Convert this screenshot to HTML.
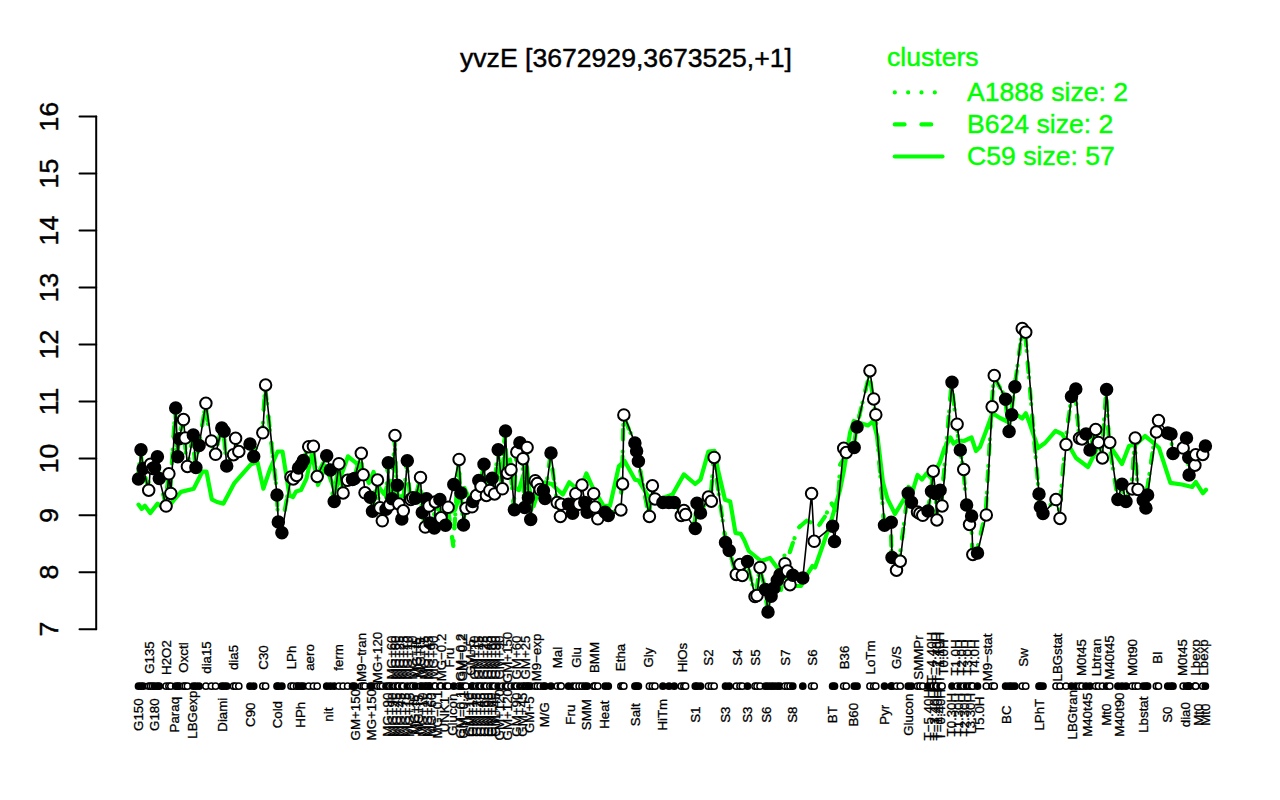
<!DOCTYPE html>
<html><head><meta charset="utf-8"><title>yvzE [3672929,3673525,+1]</title>
<style>html,body{margin:0;padding:0;background:#fff}svg{display:block}text{font-family:"Liberation Sans",Arial,Helvetica,sans-serif}</style>
</head><body>
<svg width="1280" height="800" viewBox="0 0 1280 800">
<rect width="1280" height="800" fill="#fff"/>
<text x="626" y="67.2" font-size="26.6" text-anchor="middle" fill="#000" stroke="#000" stroke-width="0.45">yvzE [3672929,3673525,+1]</text>
<g stroke="#000" stroke-width="2.0" fill="none" stroke-linecap="round">
<path d="M96.2 629.2V116.6"/>
<path d="M96.2 629.2H79.5"/>
<path d="M96.2 572.2H79.5"/>
<path d="M96.2 515.3H79.5"/>
<path d="M96.2 458.4H79.5"/>
<path d="M96.2 401.4H79.5"/>
<path d="M96.2 344.5H79.5"/>
<path d="M96.2 287.5H79.5"/>
<path d="M96.2 230.6H79.5"/>
<path d="M96.2 173.6H79.5"/>
<path d="M96.2 116.6H79.5"/>
</g>
<g font-size="26.6" text-anchor="middle" fill="#000" stroke="#000" stroke-width="0.45">
<text transform="translate(57.5 629.2) rotate(-90)">7</text>
<text transform="translate(57.5 572.2) rotate(-90)">8</text>
<text transform="translate(57.5 515.3) rotate(-90)">9</text>
<text transform="translate(57.5 458.4) rotate(-90)">10</text>
<text transform="translate(57.5 401.4) rotate(-90)">11</text>
<text transform="translate(57.5 344.5) rotate(-90)">12</text>
<text transform="translate(57.5 287.5) rotate(-90)">13</text>
<text transform="translate(57.5 230.6) rotate(-90)">14</text>
<text transform="translate(57.5 173.6) rotate(-90)">15</text>
<text transform="translate(57.5 116.6) rotate(-90)">16</text>
</g>
<g font-size="26.6" fill="#00ff00" stroke="#00ff00" stroke-width="0.45">
<text x="887" y="66.1">clusters</text>
<text x="967" y="101.1">A1888 size: 2</text>
<text x="967" y="133.2">B624 size: 2</text>
<text x="967" y="165.2">C59 size: 57</text>
</g>
<g stroke="#00ff00" stroke-width="4.2" fill="none" stroke-linecap="round">
<path d="M894.8 92.4H944" stroke-dasharray="0.01 13.33"/>
<path d="M894.75 124.4H944" stroke-dasharray="9.8 16.87"/>
<path d="M894.75 156.5H942.5"/>
</g>
<g stroke="#00ff00" stroke-width="4.2" fill="none" stroke-linecap="round" stroke-linejoin="round">
<path d="M138.0 477.4 L140.5 451.3 L142.7 469.6 L148.2 486.5 L150.1 465.7 L152.1 467.7 L154.1 464.4 L156.9 458.3 L158.8 474.8 L165.6 504.2 L168.4 475.3 L170.3 489.5 L175.2 409.5 L177.3 459.1 L178.8 436.8 L183.0 421.1 L184.7 439.6 L186.9 469.0 L192.8 436.6 L195.4 465.9 L198.6 448.6 L205.4 404.8 L210.9 444.2 L215.1 453.2 L221.3 429.6 L223.6 430.0 L226.2 464.4 L233.0 456.6 L235.1 439.8 L238.3 451.6 L249.5 445.6 L253.2 454.3 L262.3 433.8 L265.1 386.5 L276.5 488.8 L277.8 515.6 L281.4 529.2 L290.5 478.4 L292.7 476.9 L296.1 475.1 L298.0 467.1 L300.7 462.9 L302.9 462.1 L308.2 447.5 L312.9 447.8 L316.7 475.7 L326.2 457.2 L329.9 471.6 L333.7 501.2 L338.4 465.2 L342.6 493.9 L347.1 475.2 L352.0 476.6 L354.0 478.1 L360.8 454.8 L362.7 473.1 L364.5 487.4 L369.8 496.3 L372.0 510.1 L377.0 481.5 L379.5 508.2 L381.8 516.8 L385.5 508.4 L387.8 464.3 L389.3 503.0 L391.5 496.4 L394.5 438.6 L396.8 487.4 L398.3 502.0 L401.3 517.7 L402.8 505.6 L406.8 462.3 L410.3 499.0 L412.3 499.8 L415.0 499.0 L420.0 478.9 L421.8 509.5 L424.8 525.7 L426.0 500.3 L428.5 504.2 L429.5 518.4 L433.8 523.0 L434.8 497.6 L439.4 500.9 L440.5 513.4 L445.0 521.6 L447.6 505.3 L453.3 546.0 L458.6 460.9 L460.4 491.1 L463.0 522.3 L465.5 508.8 L471.5 507.2 L472.3 502.3 L476.0 492.3 L478.3 482.0 L480.5 483.7 L483.5 465.9 L485.9 496.5 L489.3 486.2 L491.7 479.7 L494.1 489.9 L497.7 451.3 L501.9 486.2 L505.0 432.5 L506.9 469.5 L510.5 471.2 L513.9 506.7 L516.3 451.2 L519.4 444.3 L522.5 461.1 L524.2 505.9 L526.6 448.9 L527.9 496.4 L530.2 518.3 L534.7 482.2 L536.8 485.3 L539.6 490.0 L542.9 491.3 L544.5 498.4 L550.5 454.5 L556.7 499.9 L559.9 511.2 L560.7 505.7 L568.0 505.7 L572.1 507.6 L575.3 495.2 L578.6 499.7 L581.5 486.5 L584.3 497.0 L586.7 505.8 L593.2 495.2 L594.5 502.2 L597.3 515.4 L604.6 513.8 L607.8 516.3 L620.4 507.4 L622.1 479.2 L623.4 416.4 L634.4 441.8 L636.1 449.8 L637.9 457.9 L648.9 516.5 L651.9 488.2 L654.5 497.1 L662.4 500.6 L668.5 503.9 L673.8 503.9 L680.8 511.4 L683.4 512.1 L685.1 513.9 L694.8 522.9 L696.5 504.8 L700.0 513.2 L707.9 498.6 L710.9 495.2 L713.6 458.9 L725.0 536.0 L728.7 547.3 L735.8 574.6 L739.5 566.1 L741.8 573.7 L747.0 563.1 L754.5 592.5 L756.5 590.3 L759.5 568.9 L764.9 587.0 L767.5 610.3 L770.6 592.1 L773.5 583.6 L776.8 580.4 L779.5 576.5 L781.0 590.0 L785.0 550.0 L789.5 553.0 L793.8 540.0 L798.8 527.5 L807.5 520.0 L817.5 527.5 L826.0 515.0 L831.0 502.5 L836.0 510.0 L838.8 490.0 L840.0 465.0 L847.5 452.5 L853.7 447.5 L856.5 427.4 L869.5 373.6 L873.2 400.1 L875.3 411.9 L884.0 522.4 L890.8 523.8 L891.5 550.7 L896.0 563.1 L899.8 556.0 L907.7 494.8 L911.0 501.6 L917.0 512.2 L919.4 510.3 L922.2 515.4 L927.5 511.4 L931.0 492.4 L932.8 472.7 L935.2 489.3 L936.4 514.5 L939.6 491.7 L941.6 500.3 L951.5 383.9 L956.6 426.2 L959.8 450.5 L963.2 466.7 L966.1 502.1 L969.0 521.7 L971.1 517.5 L972.3 549.6 L977.0 550.2 L985.8 512.0 L991.6 407.3 L993.8 377.1 L1005.1 396.4 L1008.6 431.7 L1011.2 412.2 L1014.4 388.5 L1021.8 333.8 L1025.2 333.2 L1038.5 489.9 L1039.9 506.2 L1042.5 510.9 L1055.5 501.1 L1059.5 510.9 L1065.5 440.5 L1071.0 400.1 L1075.3 392.3 L1079.0 435.2 L1081.5 440.7 L1085.5 437.2 L1089.5 450.1 L1095.2 431.0 L1097.9 441.3 L1101.9 453.3 L1106.1 390.9 L1109.3 444.3 L1117.4 497.4 L1121.5 485.8 L1125.5 501.1 L1131.7 485.2 L1134.7 439.5 L1137.5 488.3 L1142.8 494.2 L1145.4 502.0 L1147.1 489.8 L1155.9 429.2 L1158.0 422.1 L1167.2 431.5 L1170.5 433.9 L1172.5 450.5 L1182.7 450.9 L1186.0 439.6 L1188.2 456.8 L1188.6 474.4 L1194.4 467.3 L1195.2 453.8 L1202.2 457.4 L1204.9 447.5" stroke-dasharray="0.01 13.33"/>
<path d="M138.0 477.4 L140.5 451.3 L142.7 469.6 L148.2 486.5 L150.1 465.7 L152.1 467.7 L154.1 464.4 L156.9 458.3 L158.8 474.8 L165.6 504.2 L168.4 475.3 L170.3 489.5 L175.2 409.5 L177.3 459.1 L178.8 436.8 L183.0 421.1 L184.7 439.6 L186.9 469.0 L192.8 436.6 L195.4 465.9 L198.6 448.6 L205.4 404.8 L210.9 444.2 L215.1 453.2 L221.3 429.6 L223.6 430.0 L226.2 464.4 L233.0 456.6 L235.1 439.8 L238.3 451.6 L249.5 445.6 L253.2 454.3 L262.3 433.8 L265.1 386.5 L276.5 488.8 L277.8 515.6 L281.4 529.2 L290.5 478.4 L292.7 476.9 L296.1 475.1 L298.0 467.1 L300.7 462.9 L302.9 462.1 L308.2 447.5 L312.9 447.8 L316.7 475.7 L326.2 457.2 L329.9 471.6 L333.7 501.2 L338.4 465.2 L342.6 493.9 L347.1 475.2 L352.0 476.6 L354.0 478.1 L360.8 454.8 L362.7 473.1 L364.5 487.4 L369.8 496.3 L372.0 510.1 L377.0 481.5 L379.5 508.2 L381.8 516.8 L385.5 508.4 L387.8 464.3 L389.3 503.0 L391.5 496.4 L394.5 438.6 L396.8 487.4 L398.3 502.0 L401.3 517.7 L402.8 505.6 L406.8 462.3 L410.3 499.0 L412.3 499.8 L415.0 499.0 L420.0 478.9 L421.8 509.5 L424.8 525.7 L426.0 500.3 L428.5 504.2 L429.5 518.4 L433.8 523.0 L434.8 497.6 L439.4 500.9 L440.5 513.4 L445.0 521.6 L447.6 505.3 L453.3 546.0 L458.6 460.9 L460.4 491.1 L463.0 522.3 L465.5 508.8 L471.5 507.2 L472.3 502.3 L476.0 492.3 L478.3 482.0 L480.5 483.7 L483.5 465.9 L485.9 496.5 L489.3 486.2 L491.7 479.7 L494.1 489.9 L497.7 451.3 L501.9 486.2 L505.0 432.5 L506.9 469.5 L510.5 471.2 L513.9 506.7 L516.3 451.2 L519.4 444.3 L522.5 461.1 L524.2 505.9 L526.6 448.9 L527.9 496.4 L530.2 518.3 L534.7 482.2 L536.8 485.3 L539.6 490.0 L542.9 491.3 L544.5 498.4 L550.5 454.5 L556.7 499.9 L559.9 511.2 L560.7 505.7 L568.0 505.7 L572.1 507.6 L575.3 495.2 L578.6 499.7 L581.5 486.5 L584.3 497.0 L586.7 505.8 L593.2 495.2 L594.5 502.2 L597.3 515.4 L604.6 513.8 L607.8 516.3 L620.4 507.4 L622.1 479.2 L623.4 416.4 L634.4 441.8 L636.1 449.8 L637.9 457.9 L648.9 516.5 L651.9 488.2 L654.5 497.1 L662.4 500.6 L668.5 503.9 L673.8 503.9 L680.8 511.4 L683.4 512.1 L685.1 513.9 L694.8 522.9 L696.5 504.8 L700.0 513.2 L707.9 498.6 L710.9 495.2 L713.6 458.9 L725.0 536.0 L728.7 547.3 L735.8 574.6 L739.5 566.1 L741.8 573.7 L747.0 563.1 L754.5 592.5 L756.5 590.3 L759.5 568.9 L764.9 587.0 L767.5 610.3 L770.6 592.1 L773.5 583.6 L776.8 580.4 L779.5 576.5 L781.0 590.0 L785.0 550.0 L789.5 553.0 L793.8 540.0 L798.8 527.5 L807.5 520.0 L817.5 527.5 L826.0 515.0 L831.0 502.5 L836.0 510.0 L838.8 490.0 L840.0 465.0 L847.5 452.5 L853.7 447.5 L856.5 427.4 L869.5 373.6 L873.2 400.1 L875.3 411.9 L884.0 522.4 L890.8 523.8 L891.5 550.7 L896.0 563.1 L899.8 556.0 L907.7 494.8 L911.0 501.6 L917.0 512.2 L919.4 510.3 L922.2 515.4 L927.5 511.4 L931.0 492.4 L932.8 472.7 L935.2 489.3 L936.4 514.5 L939.6 491.7 L941.6 500.3 L951.5 383.9 L956.6 426.2 L959.8 450.5 L963.2 466.7 L966.1 502.1 L969.0 521.7 L971.1 517.5 L972.3 549.6 L977.0 550.2 L985.8 512.0 L991.6 407.3 L993.8 377.1 L1005.1 396.4 L1008.6 431.7 L1011.2 412.2 L1014.4 388.5 L1021.8 333.8 L1025.2 333.2 L1038.5 489.9 L1039.9 506.2 L1042.5 510.9 L1055.5 501.1 L1059.5 510.9 L1065.5 440.5 L1071.0 400.1 L1075.3 392.3 L1079.0 435.2 L1081.5 440.7 L1085.5 437.2 L1089.5 450.1 L1095.2 431.0 L1097.9 441.3 L1101.9 453.3 L1106.1 390.9 L1109.3 444.3 L1117.4 497.4 L1121.5 485.8 L1125.5 501.1 L1131.7 485.2 L1134.7 439.5 L1137.5 488.3 L1142.8 494.2 L1145.4 502.0 L1147.1 489.8 L1155.9 429.2 L1158.0 422.1 L1167.2 431.5 L1170.5 433.9 L1172.5 450.5 L1182.7 450.9 L1186.0 439.6 L1188.2 456.8 L1188.6 474.4 L1194.4 467.3 L1195.2 453.8 L1202.2 457.4 L1204.9 447.5" stroke-dasharray="9.8 16.87"/>
<path d="M138.5 504.6 L141.7 508.9 L144.9 505.7 L150.2 513.1 L157.6 503.6 L161.9 506.8 L167.0 509.0 L173.6 500.4 L181.0 491.9 L193.7 488.7 L202.3 471.7 L206.5 471.7 L211.8 499.3 L217.0 502.0 L223.5 503.6 L234.1 483.4 L251.1 464.2 L257.5 462.1 L263.4 488.7 L270.2 468.5 L277.7 451.5 L282.5 451.5 L289.5 495.6 L293.0 497.0 L296.0 491.4 L301.0 490.0 L306.5 478.6 L312.0 453.0 L318.0 485.0 L325.7 465.9 L335.0 491.0 L341.6 474.4 L348.0 456.3 L354.4 461.6 L361.0 468.0 L369.0 483.0 L373.5 472.0 L378.0 486.0 L384.0 494.0 L390.5 481.0 L397.0 497.0 L405.0 495.6 L412.0 500.0 L420.0 491.0 L428.0 503.0 L437.5 509.0 L446.0 514.0 L455.0 510.0 L460.0 494.0 L464.5 488.0 L470.0 500.0 L476.0 492.0 L483.0 474.5 L490.0 484.0 L496.0 478.0 L502.0 463.6 L510.0 459.5 L515.0 488.0 L519.0 490.0 L523.0 476.0 L527.0 466.9 L528.7 486.3 L533.6 506.0 L538.0 492.0 L545.0 482.3 L551.5 484.0 L562.8 494.5 L569.3 482.3 L574.0 486.5 L580.0 490.0 L586.4 473.4 L592.0 486.0 L603.5 505.8 L610.0 505.8 L618.9 466.0 L624.6 461.0 L634.9 479.6 L638.5 480.5 L648.0 496.2 L660.0 499.0 L672.5 494.5 L683.9 474.4 L695.2 484.0 L700.5 479.6 L708.4 451.6 L714.5 450.8 L718.0 470.0 L725.0 499.8 L730.2 501.5 L735.5 533.0 L740.8 533.9 L744.2 540.0 L748.8 551.0 L761.0 561.0 L770.0 558.0 L778.8 570.0 L786.0 578.0 L794.0 586.0 L801.0 586.0 L807.5 573.8 L812.5 566.0 L815.0 567.5 L824.0 542.0 L832.0 518.0 L840.0 490.0 L844.0 470.0 L850.0 433.0 L853.8 421.0 L868.0 425.5 L873.2 421.0 L877.8 439.0 L883.0 482.5 L887.5 499.0 L895.0 514.0 L904.0 499.0 L908.5 487.0 L913.0 490.0 L917.5 475.0 L922.0 479.5 L926.5 473.5 L931.0 478.0 L935.0 472.0 L940.0 462.0 L944.5 448.0 L950.5 437.5 L953.5 443.5 L958.0 440.5 L964.0 441.0 L971.5 437.5 L976.0 451.0 L980.0 447.0 L985.5 432.5 L992.5 413.2 L1000.0 418.0 L1008.2 422.0 L1017.0 415.0 L1022.2 418.5 L1025.8 413.2 L1029.2 422.0 L1038.0 448.0 L1045.0 443.0 L1055.5 430.8 L1062.0 434.0 L1068.0 444.0 L1076.0 458.0 L1088.0 467.0 L1094.0 455.0 L1100.0 441.0 L1110.0 446.0 L1122.0 464.0 L1129.0 446.0 L1137.0 443.5 L1145.0 436.0 L1152.0 441.6 L1159.0 447.8 L1170.4 482.8 L1181.8 484.5 L1192.2 487.0 L1195.8 482.0 L1202.8 493.2 L1206.0 489.8" stroke-width="4.2"/>
</g>
<path d="M138.5 479.1 L141.0 449.8 L143.2 468.5 L148.7 490.2 L150.6 464.2 L152.6 468.5 L154.6 467.4 L157.4 456.8 L159.3 478.5 L166.1 506.1 L168.9 473.8 L170.8 493.4 L175.7 407.9 L177.8 456.8 L179.3 438.7 L183.5 419.6 L185.2 438.1 L187.4 466.4 L193.3 435.1 L195.9 467.4 L199.1 445.5 L205.9 403.3 L211.4 440.9 L215.6 454.3 L221.8 428.1 L224.1 431.3 L226.7 466.0 L233.5 454.7 L235.6 438.3 L238.8 451.5 L250.0 444.1 L253.7 456.4 L262.8 432.8 L265.6 385.0 L277.0 495.1 L278.3 522.0 L281.9 532.7 L291.0 476.9 L293.2 479.0 L296.6 475.4 L298.5 468.0 L301.2 464.8 L303.4 460.6 L308.7 446.7 L313.4 446.3 L317.2 476.5 L326.7 455.7 L330.4 470.1 L334.2 501.6 L338.9 463.7 L343.1 492.9 L347.6 480.3 L352.5 479.5 L354.5 478.5 L361.3 453.3 L363.2 474.8 L365.0 492.8 L370.3 497.3 L372.5 511.2 L377.5 480.0 L380.0 507.8 L382.3 520.8 L386.0 509.3 L388.3 462.8 L389.8 504.8 L392.0 498.8 L395.0 435.5 L397.3 485.3 L398.8 504.0 L401.8 519.0 L403.3 510.8 L407.3 460.8 L410.8 499.5 L412.8 497.8 L415.5 498.3 L420.5 477.4 L422.3 512.5 L425.3 527.1 L426.5 498.8 L429.0 506.1 L430.0 523.0 L434.3 528.0 L435.3 502.0 L439.9 499.4 L441.0 517.8 L445.5 525.3 L448.1 507.3 L453.8 484.4 L459.1 459.4 L460.9 493.0 L463.5 524.9 L466.0 508.3 L472.0 506.8 L472.8 501.5 L476.5 495.5 L478.8 480.5 L481.0 486.5 L484.0 464.2 L486.4 495.4 L489.8 490.4 L492.2 478.2 L494.6 493.9 L498.2 449.8 L502.4 488.8 L505.5 431.0 L507.4 473.2 L511.0 469.7 L514.4 509.8 L516.8 452.1 L519.9 442.8 L523.0 458.7 L524.7 507.5 L527.1 447.4 L528.4 497.7 L530.7 519.6 L535.2 480.7 L537.3 483.6 L540.1 489.6 L543.4 490.4 L545.0 498.5 L551.0 453.0 L557.2 502.6 L560.4 516.4 L561.2 504.2 L568.5 504.2 L572.6 513.2 L575.8 493.7 L579.1 504.2 L582.0 485.0 L584.8 502.6 L587.2 512.3 L593.7 493.7 L595.0 507.1 L597.8 518.8 L605.1 512.3 L608.3 515.6 L620.9 509.9 L622.6 484.0 L623.9 414.9 L634.9 442.9 L636.6 451.1 L638.4 461.2 L649.4 516.4 L652.4 485.8 L655.0 498.9 L662.9 502.4 L669.0 502.4 L674.2 502.4 L681.2 515.5 L683.9 510.6 L685.6 514.6 L695.2 528.6 L697.0 503.2 L700.5 512.9 L708.4 497.1 L711.4 501.1 L714.1 457.4 L725.5 542.5 L729.2 550.6 L736.2 574.4 L740.0 564.6 L742.3 575.4 L747.5 561.6 L755.0 596.6 L757.0 595.6 L760.0 567.4 L765.4 589.5 L768.0 612.0 L771.1 596.3 L774.0 588.0 L777.3 580.2 L780.0 574.7 L784.9 563.7 L787.5 571.1 L790.0 584.7 L792.8 575.3 L802.8 578.0 L811.6 493.6 L814.2 541.3 L832.6 526.2 L834.5 541.4 L843.7 448.3 L846.2 452.5 L854.2 447.6 L857.0 427.0 L870.0 370.8 L873.7 398.9 L875.8 414.7 L884.5 525.2 L891.2 522.2 L892.0 557.5 L896.5 570.2 L900.2 561.2 L908.2 493.3 L911.5 502.2 L917.5 512.0 L919.9 513.6 L922.8 515.4 L928.0 510.9 L931.5 491.2 L933.2 471.2 L935.7 493.7 L936.9 520.0 L940.1 490.2 L942.1 505.9 L952.0 382.2 L957.1 424.2 L960.3 450.0 L963.7 469.5 L966.6 505.1 L969.5 524.5 L971.6 516.0 L972.8 554.5 L977.5 553.0 L986.3 514.9 L992.1 406.8 L994.2 375.6 L1005.6 399.2 L1009.1 431.6 L1011.8 414.6 L1014.9 386.6 L1022.2 328.4 L1025.8 332.2 L1039.0 494.0 L1040.4 507.0 L1043.0 513.6 L1056.0 499.6 L1060.0 518.4 L1066.0 444.6 L1071.5 396.6 L1075.8 388.9 L1079.5 438.3 L1082.0 439.0 L1086.0 434.1 L1090.0 450.0 L1095.7 429.5 L1098.4 442.4 L1102.4 458.0 L1106.6 389.4 L1109.8 442.4 L1117.9 499.5 L1122.0 484.3 L1126.0 501.5 L1132.2 488.9 L1135.2 438.0 L1138.0 489.4 L1143.2 500.2 L1145.9 508.1 L1147.6 495.0 L1156.4 432.0 L1158.5 420.6 L1167.8 433.0 L1171.0 434.0 L1173.0 453.4 L1183.2 448.1 L1186.5 438.1 L1188.8 457.4 L1189.1 474.9 L1194.9 465.2 L1195.8 454.8 L1202.8 454.4 L1205.4 446.0" stroke="#000" stroke-width="1.6" fill="none" stroke-linejoin="round" stroke-linecap="round"/>
<g stroke="#000" stroke-width="2.0">
<circle cx="138.50" cy="479.10" r="5.75" fill="#000"/>
<circle cx="141.00" cy="449.80" r="5.75" fill="#000"/>
<circle cx="143.20" cy="468.50" r="5.75" fill="#000"/>
<circle cx="148.70" cy="490.20" r="5.75" fill="#fff"/>
<circle cx="150.60" cy="464.20" r="5.75" fill="#fff"/>
<circle cx="152.60" cy="468.50" r="5.75" fill="#fff"/>
<circle cx="154.60" cy="467.40" r="5.75" fill="#000"/>
<circle cx="157.40" cy="456.80" r="5.75" fill="#000"/>
<circle cx="159.30" cy="478.50" r="5.75" fill="#000"/>
<circle cx="166.10" cy="506.10" r="5.75" fill="#fff"/>
<circle cx="168.90" cy="473.80" r="5.75" fill="#fff"/>
<circle cx="170.80" cy="493.40" r="5.75" fill="#fff"/>
<circle cx="175.70" cy="407.90" r="5.75" fill="#000"/>
<circle cx="177.80" cy="456.80" r="5.75" fill="#000"/>
<circle cx="179.30" cy="438.70" r="5.75" fill="#000"/>
<circle cx="183.50" cy="419.60" r="5.75" fill="#fff"/>
<circle cx="185.20" cy="438.10" r="5.75" fill="#fff"/>
<circle cx="187.40" cy="466.40" r="5.75" fill="#fff"/>
<circle cx="193.30" cy="435.10" r="5.75" fill="#000"/>
<circle cx="195.90" cy="467.40" r="5.75" fill="#000"/>
<circle cx="199.10" cy="445.50" r="5.75" fill="#000"/>
<circle cx="205.90" cy="403.30" r="5.75" fill="#fff"/>
<circle cx="211.40" cy="440.90" r="5.75" fill="#fff"/>
<circle cx="215.60" cy="454.30" r="5.75" fill="#fff"/>
<circle cx="221.80" cy="428.10" r="5.75" fill="#000"/>
<circle cx="224.10" cy="431.30" r="5.75" fill="#000"/>
<circle cx="226.70" cy="466.00" r="5.75" fill="#000"/>
<circle cx="233.50" cy="454.70" r="5.75" fill="#fff"/>
<circle cx="235.60" cy="438.30" r="5.75" fill="#fff"/>
<circle cx="238.80" cy="451.50" r="5.75" fill="#fff"/>
<circle cx="250.00" cy="444.10" r="5.75" fill="#000"/>
<circle cx="253.70" cy="456.40" r="5.75" fill="#000"/>
<circle cx="262.80" cy="432.80" r="5.75" fill="#fff"/>
<circle cx="265.60" cy="385.00" r="5.75" fill="#fff"/>
<circle cx="277.00" cy="495.10" r="5.75" fill="#000"/>
<circle cx="278.30" cy="522.00" r="5.75" fill="#000"/>
<circle cx="281.90" cy="532.70" r="5.75" fill="#000"/>
<circle cx="291.00" cy="476.90" r="5.75" fill="#fff"/>
<circle cx="293.20" cy="479.00" r="5.75" fill="#fff"/>
<circle cx="296.60" cy="475.40" r="5.75" fill="#fff"/>
<circle cx="298.50" cy="468.00" r="5.75" fill="#000"/>
<circle cx="301.20" cy="464.80" r="5.75" fill="#000"/>
<circle cx="303.40" cy="460.60" r="5.75" fill="#000"/>
<circle cx="308.70" cy="446.70" r="5.75" fill="#fff"/>
<circle cx="313.40" cy="446.30" r="5.75" fill="#fff"/>
<circle cx="317.20" cy="476.50" r="5.75" fill="#fff"/>
<circle cx="326.70" cy="455.70" r="5.75" fill="#000"/>
<circle cx="330.40" cy="470.10" r="5.75" fill="#000"/>
<circle cx="334.20" cy="501.60" r="5.75" fill="#000"/>
<circle cx="338.90" cy="463.70" r="5.75" fill="#fff"/>
<circle cx="343.10" cy="492.90" r="5.75" fill="#fff"/>
<circle cx="347.60" cy="480.30" r="5.75" fill="#fff"/>
<circle cx="352.50" cy="479.50" r="5.75" fill="#000"/>
<circle cx="354.50" cy="478.50" r="5.75" fill="#000"/>
<circle cx="361.30" cy="453.30" r="5.75" fill="#fff"/>
<circle cx="363.20" cy="474.80" r="5.75" fill="#fff"/>
<circle cx="365.00" cy="492.80" r="5.75" fill="#fff"/>
<circle cx="370.30" cy="497.30" r="5.75" fill="#000"/>
<circle cx="372.50" cy="511.20" r="5.75" fill="#000"/>
<circle cx="377.50" cy="480.00" r="5.75" fill="#fff"/>
<circle cx="380.00" cy="507.80" r="5.75" fill="#fff"/>
<circle cx="382.30" cy="520.80" r="5.75" fill="#fff"/>
<circle cx="386.00" cy="509.30" r="5.75" fill="#000"/>
<circle cx="388.30" cy="462.80" r="5.75" fill="#000"/>
<circle cx="389.80" cy="504.80" r="5.75" fill="#fff"/>
<circle cx="392.00" cy="498.80" r="5.75" fill="#000"/>
<circle cx="395.00" cy="435.50" r="5.75" fill="#fff"/>
<circle cx="397.30" cy="485.30" r="5.75" fill="#000"/>
<circle cx="398.80" cy="504.00" r="5.75" fill="#fff"/>
<circle cx="401.80" cy="519.00" r="5.75" fill="#000"/>
<circle cx="403.30" cy="510.80" r="5.75" fill="#fff"/>
<circle cx="407.30" cy="460.80" r="5.75" fill="#000"/>
<circle cx="410.80" cy="499.50" r="5.75" fill="#fff"/>
<circle cx="412.80" cy="497.80" r="5.75" fill="#fff"/>
<circle cx="415.50" cy="498.30" r="5.75" fill="#000"/>
<circle cx="420.50" cy="477.40" r="5.75" fill="#fff"/>
<circle cx="422.30" cy="512.50" r="5.75" fill="#000"/>
<circle cx="425.30" cy="527.10" r="5.75" fill="#fff"/>
<circle cx="426.50" cy="498.80" r="5.75" fill="#000"/>
<circle cx="429.00" cy="506.10" r="5.75" fill="#fff"/>
<circle cx="430.00" cy="523.00" r="5.75" fill="#000"/>
<circle cx="434.30" cy="528.00" r="5.75" fill="#000"/>
<circle cx="435.30" cy="502.00" r="5.75" fill="#fff"/>
<circle cx="439.90" cy="499.40" r="5.75" fill="#000"/>
<circle cx="441.00" cy="517.80" r="5.75" fill="#fff"/>
<circle cx="445.50" cy="525.30" r="5.75" fill="#000"/>
<circle cx="448.10" cy="507.30" r="5.75" fill="#fff"/>
<circle cx="453.80" cy="484.40" r="5.75" fill="#000"/>
<circle cx="459.10" cy="459.40" r="5.75" fill="#fff"/>
<circle cx="460.90" cy="493.00" r="5.75" fill="#000"/>
<circle cx="463.50" cy="524.90" r="5.75" fill="#000"/>
<circle cx="466.00" cy="508.30" r="5.75" fill="#fff"/>
<circle cx="472.00" cy="506.80" r="5.75" fill="#fff"/>
<circle cx="472.80" cy="501.50" r="5.75" fill="#000"/>
<circle cx="476.50" cy="495.50" r="5.75" fill="#fff"/>
<circle cx="478.80" cy="480.50" r="5.75" fill="#000"/>
<circle cx="481.00" cy="486.50" r="5.75" fill="#fff"/>
<circle cx="484.00" cy="464.20" r="5.75" fill="#000"/>
<circle cx="486.40" cy="495.40" r="5.75" fill="#fff"/>
<circle cx="489.80" cy="490.40" r="5.75" fill="#fff"/>
<circle cx="492.20" cy="478.20" r="5.75" fill="#000"/>
<circle cx="494.60" cy="493.90" r="5.75" fill="#fff"/>
<circle cx="498.20" cy="449.80" r="5.75" fill="#000"/>
<circle cx="502.40" cy="488.80" r="5.75" fill="#fff"/>
<circle cx="505.50" cy="431.00" r="5.75" fill="#000"/>
<circle cx="507.40" cy="473.20" r="5.75" fill="#fff"/>
<circle cx="511.00" cy="469.70" r="5.75" fill="#fff"/>
<circle cx="514.40" cy="509.80" r="5.75" fill="#000"/>
<circle cx="516.80" cy="452.10" r="5.75" fill="#fff"/>
<circle cx="519.90" cy="442.80" r="5.75" fill="#000"/>
<circle cx="523.00" cy="458.70" r="5.75" fill="#fff"/>
<circle cx="524.70" cy="507.50" r="5.75" fill="#000"/>
<circle cx="527.10" cy="447.40" r="5.75" fill="#fff"/>
<circle cx="528.40" cy="497.70" r="5.75" fill="#000"/>
<circle cx="530.70" cy="519.60" r="5.75" fill="#000"/>
<circle cx="535.20" cy="480.70" r="5.75" fill="#fff"/>
<circle cx="537.30" cy="483.60" r="5.75" fill="#fff"/>
<circle cx="540.10" cy="489.60" r="5.75" fill="#fff"/>
<circle cx="543.40" cy="490.40" r="5.75" fill="#000"/>
<circle cx="545.00" cy="498.50" r="5.75" fill="#000"/>
<circle cx="551.00" cy="453.00" r="5.75" fill="#000"/>
<circle cx="557.20" cy="502.60" r="5.75" fill="#fff"/>
<circle cx="560.40" cy="516.40" r="5.75" fill="#fff"/>
<circle cx="561.20" cy="504.20" r="5.75" fill="#fff"/>
<circle cx="568.50" cy="504.20" r="5.75" fill="#000"/>
<circle cx="572.60" cy="513.20" r="5.75" fill="#000"/>
<circle cx="575.80" cy="493.70" r="5.75" fill="#fff"/>
<circle cx="579.10" cy="504.20" r="5.75" fill="#fff"/>
<circle cx="582.00" cy="485.00" r="5.75" fill="#fff"/>
<circle cx="584.80" cy="502.60" r="5.75" fill="#000"/>
<circle cx="587.20" cy="512.30" r="5.75" fill="#000"/>
<circle cx="593.70" cy="493.70" r="5.75" fill="#fff"/>
<circle cx="595.00" cy="507.10" r="5.75" fill="#fff"/>
<circle cx="597.80" cy="518.80" r="5.75" fill="#fff"/>
<circle cx="605.10" cy="512.30" r="5.75" fill="#000"/>
<circle cx="608.30" cy="515.60" r="5.75" fill="#000"/>
<circle cx="620.90" cy="509.90" r="5.75" fill="#fff"/>
<circle cx="622.60" cy="484.00" r="5.75" fill="#fff"/>
<circle cx="623.85" cy="414.90" r="5.75" fill="#fff"/>
<circle cx="634.90" cy="442.90" r="5.75" fill="#000"/>
<circle cx="636.60" cy="451.10" r="5.75" fill="#000"/>
<circle cx="638.40" cy="461.25" r="5.75" fill="#000"/>
<circle cx="649.40" cy="516.40" r="5.75" fill="#fff"/>
<circle cx="652.40" cy="485.75" r="5.75" fill="#fff"/>
<circle cx="655.00" cy="498.90" r="5.75" fill="#fff"/>
<circle cx="662.90" cy="502.40" r="5.75" fill="#000"/>
<circle cx="669.00" cy="502.40" r="5.75" fill="#000"/>
<circle cx="674.25" cy="502.40" r="5.75" fill="#000"/>
<circle cx="681.25" cy="515.50" r="5.75" fill="#fff"/>
<circle cx="683.90" cy="510.60" r="5.75" fill="#fff"/>
<circle cx="685.60" cy="514.60" r="5.75" fill="#fff"/>
<circle cx="695.25" cy="528.60" r="5.75" fill="#000"/>
<circle cx="697.00" cy="503.25" r="5.75" fill="#000"/>
<circle cx="700.50" cy="512.90" r="5.75" fill="#000"/>
<circle cx="708.40" cy="497.10" r="5.75" fill="#fff"/>
<circle cx="711.35" cy="501.15" r="5.75" fill="#fff"/>
<circle cx="714.15" cy="457.40" r="5.75" fill="#fff"/>
<circle cx="725.50" cy="542.50" r="5.75" fill="#000"/>
<circle cx="729.20" cy="550.60" r="5.75" fill="#000"/>
<circle cx="736.25" cy="574.40" r="5.75" fill="#fff"/>
<circle cx="740.00" cy="564.60" r="5.75" fill="#fff"/>
<circle cx="742.30" cy="575.40" r="5.75" fill="#fff"/>
<circle cx="747.50" cy="561.60" r="5.75" fill="#000"/>
<circle cx="755.00" cy="596.60" r="5.75" fill="#fff"/>
<circle cx="757.00" cy="595.60" r="5.75" fill="#fff"/>
<circle cx="760.00" cy="567.40" r="5.75" fill="#fff"/>
<circle cx="765.40" cy="589.50" r="5.75" fill="#000"/>
<circle cx="768.00" cy="612.00" r="5.75" fill="#000"/>
<circle cx="771.10" cy="596.30" r="5.75" fill="#000"/>
<circle cx="774.00" cy="588.00" r="5.75" fill="#000"/>
<circle cx="777.30" cy="580.20" r="5.75" fill="#000"/>
<circle cx="780.00" cy="574.70" r="5.75" fill="#000"/>
<circle cx="784.90" cy="563.70" r="5.75" fill="#fff"/>
<circle cx="787.50" cy="571.10" r="5.75" fill="#fff"/>
<circle cx="790.00" cy="584.70" r="5.75" fill="#fff"/>
<circle cx="792.80" cy="575.30" r="5.75" fill="#000"/>
<circle cx="802.80" cy="578.00" r="5.75" fill="#000"/>
<circle cx="811.60" cy="493.60" r="5.75" fill="#fff"/>
<circle cx="814.20" cy="541.30" r="5.75" fill="#fff"/>
<circle cx="832.60" cy="526.20" r="5.75" fill="#000"/>
<circle cx="834.50" cy="541.40" r="5.75" fill="#000"/>
<circle cx="843.70" cy="448.30" r="5.75" fill="#fff"/>
<circle cx="846.25" cy="452.50" r="5.75" fill="#fff"/>
<circle cx="854.20" cy="447.55" r="5.75" fill="#000"/>
<circle cx="857.05" cy="427.00" r="5.75" fill="#000"/>
<circle cx="869.95" cy="370.75" r="5.75" fill="#fff"/>
<circle cx="873.70" cy="398.95" r="5.75" fill="#fff"/>
<circle cx="875.80" cy="414.70" r="5.75" fill="#fff"/>
<circle cx="884.50" cy="525.25" r="5.75" fill="#000"/>
<circle cx="891.25" cy="522.25" r="5.75" fill="#000"/>
<circle cx="892.00" cy="557.50" r="5.75" fill="#000"/>
<circle cx="896.50" cy="570.25" r="5.75" fill="#fff"/>
<circle cx="900.25" cy="561.25" r="5.75" fill="#fff"/>
<circle cx="908.20" cy="493.30" r="5.75" fill="#000"/>
<circle cx="911.45" cy="502.25" r="5.75" fill="#000"/>
<circle cx="917.50" cy="512.00" r="5.75" fill="#fff"/>
<circle cx="919.90" cy="513.60" r="5.75" fill="#fff"/>
<circle cx="922.75" cy="515.35" r="5.75" fill="#fff"/>
<circle cx="928.00" cy="510.90" r="5.75" fill="#000"/>
<circle cx="931.50" cy="491.25" r="5.75" fill="#000"/>
<circle cx="933.25" cy="471.20" r="5.75" fill="#fff"/>
<circle cx="935.70" cy="493.70" r="5.75" fill="#000"/>
<circle cx="936.90" cy="520.00" r="5.75" fill="#fff"/>
<circle cx="940.10" cy="490.20" r="5.75" fill="#000"/>
<circle cx="942.10" cy="505.90" r="5.75" fill="#fff"/>
<circle cx="952.00" cy="382.20" r="5.75" fill="#000"/>
<circle cx="957.10" cy="424.20" r="5.75" fill="#fff"/>
<circle cx="960.30" cy="450.00" r="5.75" fill="#000"/>
<circle cx="963.70" cy="469.50" r="5.75" fill="#fff"/>
<circle cx="966.60" cy="505.10" r="5.75" fill="#000"/>
<circle cx="969.50" cy="524.50" r="5.75" fill="#fff"/>
<circle cx="971.60" cy="516.00" r="5.75" fill="#000"/>
<circle cx="972.80" cy="554.50" r="5.75" fill="#fff"/>
<circle cx="977.50" cy="553.00" r="5.75" fill="#000"/>
<circle cx="986.30" cy="514.90" r="5.75" fill="#fff"/>
<circle cx="992.15" cy="406.80" r="5.75" fill="#fff"/>
<circle cx="994.25" cy="375.60" r="5.75" fill="#fff"/>
<circle cx="1005.60" cy="399.25" r="5.75" fill="#000"/>
<circle cx="1009.10" cy="431.60" r="5.75" fill="#000"/>
<circle cx="1011.75" cy="414.65" r="5.75" fill="#000"/>
<circle cx="1014.90" cy="386.65" r="5.75" fill="#000"/>
<circle cx="1022.25" cy="328.40" r="5.75" fill="#fff"/>
<circle cx="1025.75" cy="332.20" r="5.75" fill="#fff"/>
<circle cx="1039.00" cy="494.00" r="5.75" fill="#000"/>
<circle cx="1040.40" cy="507.00" r="5.75" fill="#000"/>
<circle cx="1043.00" cy="513.60" r="5.75" fill="#000"/>
<circle cx="1056.00" cy="499.60" r="5.75" fill="#fff"/>
<circle cx="1060.00" cy="518.40" r="5.75" fill="#fff"/>
<circle cx="1066.00" cy="444.60" r="5.75" fill="#fff"/>
<circle cx="1071.50" cy="396.60" r="5.75" fill="#000"/>
<circle cx="1075.80" cy="388.90" r="5.75" fill="#000"/>
<circle cx="1079.50" cy="438.30" r="5.75" fill="#fff"/>
<circle cx="1082.00" cy="439.00" r="5.75" fill="#fff"/>
<circle cx="1086.00" cy="434.10" r="5.75" fill="#000"/>
<circle cx="1090.00" cy="450.00" r="5.75" fill="#000"/>
<circle cx="1095.70" cy="429.50" r="5.75" fill="#fff"/>
<circle cx="1098.40" cy="442.40" r="5.75" fill="#fff"/>
<circle cx="1102.40" cy="458.00" r="5.75" fill="#fff"/>
<circle cx="1106.60" cy="389.40" r="5.75" fill="#000"/>
<circle cx="1109.80" cy="442.40" r="5.75" fill="#fff"/>
<circle cx="1117.90" cy="499.50" r="5.75" fill="#000"/>
<circle cx="1122.00" cy="484.30" r="5.75" fill="#000"/>
<circle cx="1126.00" cy="501.50" r="5.75" fill="#000"/>
<circle cx="1132.20" cy="488.90" r="5.75" fill="#fff"/>
<circle cx="1135.20" cy="438.00" r="5.75" fill="#fff"/>
<circle cx="1138.00" cy="489.40" r="5.75" fill="#fff"/>
<circle cx="1143.25" cy="500.25" r="5.75" fill="#000"/>
<circle cx="1145.90" cy="508.10" r="5.75" fill="#000"/>
<circle cx="1147.60" cy="495.00" r="5.75" fill="#000"/>
<circle cx="1156.40" cy="432.00" r="5.75" fill="#fff"/>
<circle cx="1158.50" cy="420.60" r="5.75" fill="#fff"/>
<circle cx="1167.75" cy="433.00" r="5.75" fill="#000"/>
<circle cx="1171.00" cy="434.00" r="5.75" fill="#000"/>
<circle cx="1173.00" cy="453.40" r="5.75" fill="#000"/>
<circle cx="1183.15" cy="448.10" r="5.75" fill="#fff"/>
<circle cx="1186.50" cy="438.10" r="5.75" fill="#000"/>
<circle cx="1188.75" cy="457.40" r="5.75" fill="#000"/>
<circle cx="1189.10" cy="474.90" r="5.75" fill="#000"/>
<circle cx="1194.90" cy="465.25" r="5.75" fill="#fff"/>
<circle cx="1195.75" cy="454.75" r="5.75" fill="#fff"/>
<circle cx="1202.75" cy="454.40" r="5.75" fill="#fff"/>
<circle cx="1205.40" cy="446.00" r="5.75" fill="#000"/>
</g>
<g stroke="#000" stroke-width="1.5">
<circle cx="138.50" cy="686.2" r="3.1" fill="#000"/>
<circle cx="141.00" cy="686.2" r="3.1" fill="#000"/>
<circle cx="143.20" cy="686.2" r="3.1" fill="#000"/>
<circle cx="148.70" cy="686.2" r="3.1" fill="#fff"/>
<circle cx="150.60" cy="686.2" r="3.1" fill="#fff"/>
<circle cx="152.60" cy="686.2" r="3.1" fill="#fff"/>
<circle cx="154.60" cy="686.2" r="3.1" fill="#000"/>
<circle cx="157.40" cy="686.2" r="3.1" fill="#000"/>
<circle cx="159.30" cy="686.2" r="3.1" fill="#000"/>
<circle cx="166.10" cy="686.2" r="3.1" fill="#fff"/>
<circle cx="168.90" cy="686.2" r="3.1" fill="#fff"/>
<circle cx="170.80" cy="686.2" r="3.1" fill="#fff"/>
<circle cx="175.70" cy="686.2" r="3.1" fill="#000"/>
<circle cx="177.80" cy="686.2" r="3.1" fill="#000"/>
<circle cx="179.30" cy="686.2" r="3.1" fill="#000"/>
<circle cx="183.50" cy="686.2" r="3.1" fill="#fff"/>
<circle cx="185.20" cy="686.2" r="3.1" fill="#fff"/>
<circle cx="187.40" cy="686.2" r="3.1" fill="#fff"/>
<circle cx="193.30" cy="686.2" r="3.1" fill="#000"/>
<circle cx="195.90" cy="686.2" r="3.1" fill="#000"/>
<circle cx="199.10" cy="686.2" r="3.1" fill="#000"/>
<circle cx="205.90" cy="686.2" r="3.1" fill="#fff"/>
<circle cx="211.40" cy="686.2" r="3.1" fill="#fff"/>
<circle cx="215.60" cy="686.2" r="3.1" fill="#fff"/>
<circle cx="221.80" cy="686.2" r="3.1" fill="#000"/>
<circle cx="224.10" cy="686.2" r="3.1" fill="#000"/>
<circle cx="226.70" cy="686.2" r="3.1" fill="#000"/>
<circle cx="233.50" cy="686.2" r="3.1" fill="#fff"/>
<circle cx="235.60" cy="686.2" r="3.1" fill="#fff"/>
<circle cx="238.80" cy="686.2" r="3.1" fill="#fff"/>
<circle cx="250.00" cy="686.2" r="3.1" fill="#000"/>
<circle cx="253.70" cy="686.2" r="3.1" fill="#000"/>
<circle cx="262.80" cy="686.2" r="3.1" fill="#fff"/>
<circle cx="265.60" cy="686.2" r="3.1" fill="#fff"/>
<circle cx="277.00" cy="686.2" r="3.1" fill="#000"/>
<circle cx="278.30" cy="686.2" r="3.1" fill="#000"/>
<circle cx="281.90" cy="686.2" r="3.1" fill="#000"/>
<circle cx="291.00" cy="686.2" r="3.1" fill="#fff"/>
<circle cx="293.20" cy="686.2" r="3.1" fill="#fff"/>
<circle cx="296.60" cy="686.2" r="3.1" fill="#fff"/>
<circle cx="298.50" cy="686.2" r="3.1" fill="#000"/>
<circle cx="301.20" cy="686.2" r="3.1" fill="#000"/>
<circle cx="303.40" cy="686.2" r="3.1" fill="#000"/>
<circle cx="308.70" cy="686.2" r="3.1" fill="#fff"/>
<circle cx="313.40" cy="686.2" r="3.1" fill="#fff"/>
<circle cx="317.20" cy="686.2" r="3.1" fill="#fff"/>
<circle cx="326.70" cy="686.2" r="3.1" fill="#000"/>
<circle cx="330.40" cy="686.2" r="3.1" fill="#000"/>
<circle cx="334.20" cy="686.2" r="3.1" fill="#000"/>
<circle cx="338.90" cy="686.2" r="3.1" fill="#fff"/>
<circle cx="343.10" cy="686.2" r="3.1" fill="#fff"/>
<circle cx="347.60" cy="686.2" r="3.1" fill="#fff"/>
<circle cx="352.50" cy="686.2" r="3.1" fill="#000"/>
<circle cx="354.50" cy="686.2" r="3.1" fill="#000"/>
<circle cx="361.30" cy="686.2" r="3.1" fill="#fff"/>
<circle cx="363.20" cy="686.2" r="3.1" fill="#fff"/>
<circle cx="365.00" cy="686.2" r="3.1" fill="#fff"/>
<circle cx="370.30" cy="686.2" r="3.1" fill="#000"/>
<circle cx="372.50" cy="686.2" r="3.1" fill="#000"/>
<circle cx="377.50" cy="686.2" r="3.1" fill="#fff"/>
<circle cx="380.00" cy="686.2" r="3.1" fill="#fff"/>
<circle cx="382.30" cy="686.2" r="3.1" fill="#fff"/>
<circle cx="386.00" cy="686.2" r="3.1" fill="#000"/>
<circle cx="388.30" cy="686.2" r="3.1" fill="#000"/>
<circle cx="389.80" cy="686.2" r="3.1" fill="#fff"/>
<circle cx="392.00" cy="686.2" r="3.1" fill="#000"/>
<circle cx="395.00" cy="686.2" r="3.1" fill="#fff"/>
<circle cx="397.30" cy="686.2" r="3.1" fill="#000"/>
<circle cx="398.80" cy="686.2" r="3.1" fill="#fff"/>
<circle cx="401.80" cy="686.2" r="3.1" fill="#000"/>
<circle cx="403.30" cy="686.2" r="3.1" fill="#fff"/>
<circle cx="407.30" cy="686.2" r="3.1" fill="#000"/>
<circle cx="410.80" cy="686.2" r="3.1" fill="#fff"/>
<circle cx="412.80" cy="686.2" r="3.1" fill="#fff"/>
<circle cx="415.50" cy="686.2" r="3.1" fill="#000"/>
<circle cx="420.50" cy="686.2" r="3.1" fill="#fff"/>
<circle cx="422.30" cy="686.2" r="3.1" fill="#000"/>
<circle cx="425.30" cy="686.2" r="3.1" fill="#fff"/>
<circle cx="426.50" cy="686.2" r="3.1" fill="#000"/>
<circle cx="429.00" cy="686.2" r="3.1" fill="#fff"/>
<circle cx="430.00" cy="686.2" r="3.1" fill="#000"/>
<circle cx="434.30" cy="686.2" r="3.1" fill="#000"/>
<circle cx="435.30" cy="686.2" r="3.1" fill="#fff"/>
<circle cx="439.90" cy="686.2" r="3.1" fill="#000"/>
<circle cx="441.00" cy="686.2" r="3.1" fill="#fff"/>
<circle cx="445.50" cy="686.2" r="3.1" fill="#000"/>
<circle cx="448.10" cy="686.2" r="3.1" fill="#fff"/>
<circle cx="453.80" cy="686.2" r="3.1" fill="#000"/>
<circle cx="459.10" cy="686.2" r="3.1" fill="#fff"/>
<circle cx="460.90" cy="686.2" r="3.1" fill="#000"/>
<circle cx="463.50" cy="686.2" r="3.1" fill="#000"/>
<circle cx="466.00" cy="686.2" r="3.1" fill="#fff"/>
<circle cx="472.00" cy="686.2" r="3.1" fill="#fff"/>
<circle cx="472.80" cy="686.2" r="3.1" fill="#000"/>
<circle cx="476.50" cy="686.2" r="3.1" fill="#fff"/>
<circle cx="478.80" cy="686.2" r="3.1" fill="#000"/>
<circle cx="481.00" cy="686.2" r="3.1" fill="#fff"/>
<circle cx="484.00" cy="686.2" r="3.1" fill="#000"/>
<circle cx="486.40" cy="686.2" r="3.1" fill="#fff"/>
<circle cx="489.80" cy="686.2" r="3.1" fill="#fff"/>
<circle cx="492.20" cy="686.2" r="3.1" fill="#000"/>
<circle cx="494.60" cy="686.2" r="3.1" fill="#fff"/>
<circle cx="498.20" cy="686.2" r="3.1" fill="#000"/>
<circle cx="502.40" cy="686.2" r="3.1" fill="#fff"/>
<circle cx="505.50" cy="686.2" r="3.1" fill="#000"/>
<circle cx="507.40" cy="686.2" r="3.1" fill="#fff"/>
<circle cx="511.00" cy="686.2" r="3.1" fill="#fff"/>
<circle cx="514.40" cy="686.2" r="3.1" fill="#000"/>
<circle cx="516.80" cy="686.2" r="3.1" fill="#fff"/>
<circle cx="519.90" cy="686.2" r="3.1" fill="#000"/>
<circle cx="523.00" cy="686.2" r="3.1" fill="#fff"/>
<circle cx="524.70" cy="686.2" r="3.1" fill="#000"/>
<circle cx="527.10" cy="686.2" r="3.1" fill="#fff"/>
<circle cx="528.40" cy="686.2" r="3.1" fill="#000"/>
<circle cx="530.70" cy="686.2" r="3.1" fill="#000"/>
<circle cx="535.20" cy="686.2" r="3.1" fill="#fff"/>
<circle cx="537.30" cy="686.2" r="3.1" fill="#fff"/>
<circle cx="540.10" cy="686.2" r="3.1" fill="#fff"/>
<circle cx="543.40" cy="686.2" r="3.1" fill="#000"/>
<circle cx="545.00" cy="686.2" r="3.1" fill="#000"/>
<circle cx="551.00" cy="686.2" r="3.1" fill="#000"/>
<circle cx="557.20" cy="686.2" r="3.1" fill="#fff"/>
<circle cx="560.40" cy="686.2" r="3.1" fill="#fff"/>
<circle cx="561.20" cy="686.2" r="3.1" fill="#fff"/>
<circle cx="568.50" cy="686.2" r="3.1" fill="#000"/>
<circle cx="572.60" cy="686.2" r="3.1" fill="#000"/>
<circle cx="575.80" cy="686.2" r="3.1" fill="#fff"/>
<circle cx="579.10" cy="686.2" r="3.1" fill="#fff"/>
<circle cx="582.00" cy="686.2" r="3.1" fill="#fff"/>
<circle cx="584.80" cy="686.2" r="3.1" fill="#000"/>
<circle cx="587.20" cy="686.2" r="3.1" fill="#000"/>
<circle cx="593.70" cy="686.2" r="3.1" fill="#fff"/>
<circle cx="595.00" cy="686.2" r="3.1" fill="#fff"/>
<circle cx="597.80" cy="686.2" r="3.1" fill="#fff"/>
<circle cx="605.10" cy="686.2" r="3.1" fill="#000"/>
<circle cx="608.30" cy="686.2" r="3.1" fill="#000"/>
<circle cx="620.90" cy="686.2" r="3.1" fill="#fff"/>
<circle cx="622.60" cy="686.2" r="3.1" fill="#fff"/>
<circle cx="623.85" cy="686.2" r="3.1" fill="#fff"/>
<circle cx="634.90" cy="686.2" r="3.1" fill="#000"/>
<circle cx="636.60" cy="686.2" r="3.1" fill="#000"/>
<circle cx="638.40" cy="686.2" r="3.1" fill="#000"/>
<circle cx="649.40" cy="686.2" r="3.1" fill="#fff"/>
<circle cx="652.40" cy="686.2" r="3.1" fill="#fff"/>
<circle cx="655.00" cy="686.2" r="3.1" fill="#fff"/>
<circle cx="662.90" cy="686.2" r="3.1" fill="#000"/>
<circle cx="669.00" cy="686.2" r="3.1" fill="#000"/>
<circle cx="674.25" cy="686.2" r="3.1" fill="#000"/>
<circle cx="681.25" cy="686.2" r="3.1" fill="#fff"/>
<circle cx="683.90" cy="686.2" r="3.1" fill="#fff"/>
<circle cx="685.60" cy="686.2" r="3.1" fill="#fff"/>
<circle cx="695.25" cy="686.2" r="3.1" fill="#000"/>
<circle cx="697.00" cy="686.2" r="3.1" fill="#000"/>
<circle cx="700.50" cy="686.2" r="3.1" fill="#000"/>
<circle cx="708.40" cy="686.2" r="3.1" fill="#fff"/>
<circle cx="711.35" cy="686.2" r="3.1" fill="#fff"/>
<circle cx="714.15" cy="686.2" r="3.1" fill="#fff"/>
<circle cx="725.50" cy="686.2" r="3.1" fill="#000"/>
<circle cx="729.20" cy="686.2" r="3.1" fill="#000"/>
<circle cx="736.25" cy="686.2" r="3.1" fill="#fff"/>
<circle cx="740.00" cy="686.2" r="3.1" fill="#fff"/>
<circle cx="742.30" cy="686.2" r="3.1" fill="#fff"/>
<circle cx="747.50" cy="686.2" r="3.1" fill="#000"/>
<circle cx="755.00" cy="686.2" r="3.1" fill="#fff"/>
<circle cx="757.00" cy="686.2" r="3.1" fill="#fff"/>
<circle cx="760.00" cy="686.2" r="3.1" fill="#fff"/>
<circle cx="765.40" cy="686.2" r="3.1" fill="#000"/>
<circle cx="768.00" cy="686.2" r="3.1" fill="#000"/>
<circle cx="771.10" cy="686.2" r="3.1" fill="#000"/>
<circle cx="774.00" cy="686.2" r="3.1" fill="#000"/>
<circle cx="777.30" cy="686.2" r="3.1" fill="#000"/>
<circle cx="780.00" cy="686.2" r="3.1" fill="#000"/>
<circle cx="784.90" cy="686.2" r="3.1" fill="#fff"/>
<circle cx="787.50" cy="686.2" r="3.1" fill="#fff"/>
<circle cx="790.00" cy="686.2" r="3.1" fill="#fff"/>
<circle cx="792.80" cy="686.2" r="3.1" fill="#000"/>
<circle cx="802.80" cy="686.2" r="3.1" fill="#000"/>
<circle cx="811.60" cy="686.2" r="3.1" fill="#fff"/>
<circle cx="814.20" cy="686.2" r="3.1" fill="#fff"/>
<circle cx="832.60" cy="686.2" r="3.1" fill="#000"/>
<circle cx="834.50" cy="686.2" r="3.1" fill="#000"/>
<circle cx="843.70" cy="686.2" r="3.1" fill="#fff"/>
<circle cx="846.25" cy="686.2" r="3.1" fill="#fff"/>
<circle cx="854.20" cy="686.2" r="3.1" fill="#000"/>
<circle cx="857.05" cy="686.2" r="3.1" fill="#000"/>
<circle cx="869.95" cy="686.2" r="3.1" fill="#fff"/>
<circle cx="873.70" cy="686.2" r="3.1" fill="#fff"/>
<circle cx="875.80" cy="686.2" r="3.1" fill="#fff"/>
<circle cx="884.50" cy="686.2" r="3.1" fill="#000"/>
<circle cx="891.25" cy="686.2" r="3.1" fill="#000"/>
<circle cx="892.00" cy="686.2" r="3.1" fill="#000"/>
<circle cx="896.50" cy="686.2" r="3.1" fill="#fff"/>
<circle cx="900.25" cy="686.2" r="3.1" fill="#fff"/>
<circle cx="908.20" cy="686.2" r="3.1" fill="#000"/>
<circle cx="911.45" cy="686.2" r="3.1" fill="#000"/>
<circle cx="917.50" cy="686.2" r="3.1" fill="#fff"/>
<circle cx="919.90" cy="686.2" r="3.1" fill="#fff"/>
<circle cx="922.75" cy="686.2" r="3.1" fill="#fff"/>
<circle cx="928.00" cy="686.2" r="3.1" fill="#000"/>
<circle cx="931.50" cy="686.2" r="3.1" fill="#000"/>
<circle cx="933.25" cy="686.2" r="3.1" fill="#fff"/>
<circle cx="935.70" cy="686.2" r="3.1" fill="#000"/>
<circle cx="936.90" cy="686.2" r="3.1" fill="#fff"/>
<circle cx="940.10" cy="686.2" r="3.1" fill="#000"/>
<circle cx="942.10" cy="686.2" r="3.1" fill="#fff"/>
<circle cx="952.00" cy="686.2" r="3.1" fill="#000"/>
<circle cx="957.10" cy="686.2" r="3.1" fill="#fff"/>
<circle cx="960.30" cy="686.2" r="3.1" fill="#000"/>
<circle cx="963.70" cy="686.2" r="3.1" fill="#fff"/>
<circle cx="966.60" cy="686.2" r="3.1" fill="#000"/>
<circle cx="969.50" cy="686.2" r="3.1" fill="#fff"/>
<circle cx="971.60" cy="686.2" r="3.1" fill="#000"/>
<circle cx="972.80" cy="686.2" r="3.1" fill="#fff"/>
<circle cx="977.50" cy="686.2" r="3.1" fill="#000"/>
<circle cx="986.30" cy="686.2" r="3.1" fill="#fff"/>
<circle cx="992.15" cy="686.2" r="3.1" fill="#fff"/>
<circle cx="994.25" cy="686.2" r="3.1" fill="#fff"/>
<circle cx="1005.60" cy="686.2" r="3.1" fill="#000"/>
<circle cx="1009.10" cy="686.2" r="3.1" fill="#000"/>
<circle cx="1011.75" cy="686.2" r="3.1" fill="#000"/>
<circle cx="1014.90" cy="686.2" r="3.1" fill="#000"/>
<circle cx="1022.25" cy="686.2" r="3.1" fill="#fff"/>
<circle cx="1025.75" cy="686.2" r="3.1" fill="#fff"/>
<circle cx="1039.00" cy="686.2" r="3.1" fill="#000"/>
<circle cx="1040.40" cy="686.2" r="3.1" fill="#000"/>
<circle cx="1043.00" cy="686.2" r="3.1" fill="#000"/>
<circle cx="1056.00" cy="686.2" r="3.1" fill="#fff"/>
<circle cx="1060.00" cy="686.2" r="3.1" fill="#fff"/>
<circle cx="1066.00" cy="686.2" r="3.1" fill="#fff"/>
<circle cx="1071.50" cy="686.2" r="3.1" fill="#000"/>
<circle cx="1075.80" cy="686.2" r="3.1" fill="#000"/>
<circle cx="1079.50" cy="686.2" r="3.1" fill="#fff"/>
<circle cx="1082.00" cy="686.2" r="3.1" fill="#fff"/>
<circle cx="1086.00" cy="686.2" r="3.1" fill="#000"/>
<circle cx="1090.00" cy="686.2" r="3.1" fill="#000"/>
<circle cx="1095.70" cy="686.2" r="3.1" fill="#fff"/>
<circle cx="1098.40" cy="686.2" r="3.1" fill="#fff"/>
<circle cx="1102.40" cy="686.2" r="3.1" fill="#fff"/>
<circle cx="1106.60" cy="686.2" r="3.1" fill="#000"/>
<circle cx="1109.80" cy="686.2" r="3.1" fill="#fff"/>
<circle cx="1117.90" cy="686.2" r="3.1" fill="#000"/>
<circle cx="1122.00" cy="686.2" r="3.1" fill="#000"/>
<circle cx="1126.00" cy="686.2" r="3.1" fill="#000"/>
<circle cx="1132.20" cy="686.2" r="3.1" fill="#fff"/>
<circle cx="1135.20" cy="686.2" r="3.1" fill="#fff"/>
<circle cx="1138.00" cy="686.2" r="3.1" fill="#fff"/>
<circle cx="1143.25" cy="686.2" r="3.1" fill="#000"/>
<circle cx="1145.90" cy="686.2" r="3.1" fill="#000"/>
<circle cx="1147.60" cy="686.2" r="3.1" fill="#000"/>
<circle cx="1156.40" cy="686.2" r="3.1" fill="#fff"/>
<circle cx="1158.50" cy="686.2" r="3.1" fill="#fff"/>
<circle cx="1167.75" cy="686.2" r="3.1" fill="#000"/>
<circle cx="1171.00" cy="686.2" r="3.1" fill="#000"/>
<circle cx="1173.00" cy="686.2" r="3.1" fill="#000"/>
<circle cx="1183.15" cy="686.2" r="3.1" fill="#fff"/>
<circle cx="1186.50" cy="686.2" r="3.1" fill="#000"/>
<circle cx="1188.75" cy="686.2" r="3.1" fill="#000"/>
<circle cx="1189.10" cy="686.2" r="3.1" fill="#000"/>
<circle cx="1194.90" cy="686.2" r="3.1" fill="#fff"/>
<circle cx="1195.75" cy="686.2" r="3.1" fill="#fff"/>
<circle cx="1202.75" cy="686.2" r="3.1" fill="#fff"/>
<circle cx="1205.40" cy="686.2" r="3.1" fill="#000"/>
</g>
<g font-size="13.3" text-anchor="middle" fill="#000" stroke="#000" stroke-width="0.3">
<text transform="translate(143.3 714.7) rotate(-90)">G150</text>
<text transform="translate(153.6 657.5) rotate(-90)">G135</text>
<text transform="translate(159.3 714.7) rotate(-90)">G180</text>
<text transform="translate(170.6 657.5) rotate(-90)">H2O2</text>
<text transform="translate(178.9 714.7) rotate(-90)">Paraq</text>
<text transform="translate(188.3 657.5) rotate(-90)">Oxctl</text>
<text transform="translate(196.6 714.7) rotate(-90)">LBGexp</text>
<text transform="translate(210.6 657.5) rotate(-90)">dia15</text>
<text transform="translate(226.6 714.7) rotate(-90)">Diami</text>
<text transform="translate(238.0 657.5) rotate(-90)">dia5</text>
<text transform="translate(254.6 714.7) rotate(-90)">C90</text>
<text transform="translate(268.0 657.5) rotate(-90)">C30</text>
<text transform="translate(282.1 714.7) rotate(-90)">Cold</text>
<text transform="translate(296.1 657.5) rotate(-90)">LPh</text>
<text transform="translate(304.6 714.7) rotate(-90)">HPh</text>
<text transform="translate(313.6 657.5) rotate(-90)">aero</text>
<text transform="translate(332.6 714.7) rotate(-90)">nit</text>
<text transform="translate(342.6 657.5) rotate(-90)">ferm</text>
<text transform="translate(359.6 714.7) rotate(-90)">GM+150</text>
<text transform="translate(365.6 657.5) rotate(-90)">M9−tran</text>
<text transform="translate(376.1 714.7) rotate(-90)">MG+150</text>
<text transform="translate(381.9 657.5) rotate(-90)">MG+120</text>
<text transform="translate(392.2 714.7) rotate(-90)">MG+90</text>
<text transform="translate(395.6 657.5) rotate(-90)">MG+60</text>
<text transform="translate(396.6 714.7) rotate(-90)">MG+90</text>
<text transform="translate(399.8 657.5) rotate(-90)">MG+60</text>
<text transform="translate(401.0 714.7) rotate(-90)">MG+45</text>
<text transform="translate(404.0 657.5) rotate(-90)">MG+25</text>
<text transform="translate(405.4 714.7) rotate(-90)">MG+45</text>
<text transform="translate(408.2 657.5) rotate(-90)">MG+25</text>
<text transform="translate(409.8 714.7) rotate(-90)">MG+15</text>
<text transform="translate(412.4 657.5) rotate(-90)">MG+10</text>
<text transform="translate(414.2 714.7) rotate(-90)">MG+15</text>
<text transform="translate(416.6 657.5) rotate(-90)">MG+10</text>
<text transform="translate(418.5 714.7) rotate(-90)">MG+t5</text>
<text transform="translate(420.8 657.5) rotate(-90)">MG+t5</text>
<text transform="translate(422.9 714.7) rotate(-90)">MG+t5</text>
<text transform="translate(425.0 657.5) rotate(-90)">MG+t5</text>
<text transform="translate(427.3 714.7) rotate(-90)">MG+10</text>
<text transform="translate(429.2 657.5) rotate(-90)">MG+15</text>
<text transform="translate(431.7 714.7) rotate(-90)">MG+25</text>
<text transform="translate(433.4 657.5) rotate(-90)">MG+45</text>
<text transform="translate(436.1 714.7) rotate(-90)">MG+60</text>
<text transform="translate(437.6 657.5) rotate(-90)">MG+90</text>
<text transform="translate(442.1 714.7) rotate(-90)">MG−0.1</text>
<text transform="translate(445.6 657.5) rotate(-90)">MG−0.2</text>
<text transform="translate(449.1 714.7) rotate(-90)">UNK1</text>
<text transform="translate(454.3 657.5) rotate(-90)">Fru</text>
<text transform="translate(457.1 714.7) rotate(-90)">Glucon</text>
<text transform="translate(464.6 657.5) rotate(-90)">GM−0.2</text>
<text transform="translate(466.6 657.5) rotate(-90)">GM−0.2</text>
<text transform="translate(464.9 714.7) rotate(-90)">GM−0.1</text>
<text transform="translate(468.1 714.7) rotate(-90)">GM−0.1</text>
<text transform="translate(473.6 714.7) rotate(-90)">GM+10</text>
<text transform="translate(475.1 657.5) rotate(-90)">GM+5</text>
<text transform="translate(477.4 714.7) rotate(-90)">GM+15</text>
<text transform="translate(479.2 657.5) rotate(-90)">GM+10</text>
<text transform="translate(481.2 714.7) rotate(-90)">GM+25</text>
<text transform="translate(483.4 657.5) rotate(-90)">GM+15</text>
<text transform="translate(485.0 714.7) rotate(-90)">GM+45</text>
<text transform="translate(487.5 657.5) rotate(-90)">GM+25</text>
<text transform="translate(488.7 714.7) rotate(-90)">GM+60</text>
<text transform="translate(491.6 657.5) rotate(-90)">GM+45</text>
<text transform="translate(492.5 714.7) rotate(-90)">GM+90</text>
<text transform="translate(495.7 657.5) rotate(-90)">GM+60</text>
<text transform="translate(496.3 714.7) rotate(-90)">GM+60</text>
<text transform="translate(499.9 657.5) rotate(-90)">GM+90</text>
<text transform="translate(500.1 714.7) rotate(-90)">GM+45</text>
<text transform="translate(504.0 657.5) rotate(-90)">GM+90</text>
<text transform="translate(504.1 714.7) rotate(-90)">GM+120</text>
<text transform="translate(511.6 714.7) rotate(-90)">GM+120</text>
<text transform="translate(511.6 657.5) rotate(-90)">GM+150</text>
<text transform="translate(520.6 714.7) rotate(-90)">GM+90</text>
<text transform="translate(520.6 657.5) rotate(-90)">GM+60</text>
<text transform="translate(527.2 714.7) rotate(-90)">GM+45</text>
<text transform="translate(530.2 657.5) rotate(-90)">GM+25</text>
<text transform="translate(534.1 714.7) rotate(-90)">GM+5</text>
<text transform="translate(541.1 657.5) rotate(-90)">M9−exp</text>
<text transform="translate(548.6 714.7) rotate(-90)">M/G</text>
<text transform="translate(562.4 657.5) rotate(-90)">Mal</text>
<text transform="translate(574.6 714.7) rotate(-90)">Fru</text>
<text transform="translate(581.2 657.5) rotate(-90)">Glu</text>
<text transform="translate(590.6 714.7) rotate(-90)">SMM</text>
<text transform="translate(599.0 657.5) rotate(-90)">BMM</text>
<text transform="translate(609.3 714.7) rotate(-90)">Heat</text>
<text transform="translate(624.6 657.5) rotate(-90)">Etha</text>
<text transform="translate(639.9 714.7) rotate(-90)">Salt</text>
<text transform="translate(653.4 657.5) rotate(-90)">Gly</text>
<text transform="translate(667.4 714.7) rotate(-90)">HiTm</text>
<text transform="translate(686.7 657.5) rotate(-90)">HiOs</text>
<text transform="translate(700.2 714.7) rotate(-90)">S1</text>
<text transform="translate(713.0 657.5) rotate(-90)">S2</text>
<text transform="translate(729.9 714.7) rotate(-90)">S3</text>
<text transform="translate(741.5 657.5) rotate(-90)">S4</text>
<text transform="translate(752.4 714.7) rotate(-90)">S3</text>
<text transform="translate(760.2 657.5) rotate(-90)">S5</text>
<text transform="translate(770.6 714.7) rotate(-90)">S6</text>
<text transform="translate(789.6 657.5) rotate(-90)">S7</text>
<text transform="translate(797.1 714.7) rotate(-90)">S8</text>
<text transform="translate(816.5 657.5) rotate(-90)">S6</text>
<text transform="translate(837.4 714.7) rotate(-90)">BT</text>
<text transform="translate(848.6 657.5) rotate(-90)">B36</text>
<text transform="translate(858.0 714.7) rotate(-90)">B60</text>
<text transform="translate(874.9 657.5) rotate(-90)">LoTm</text>
<text transform="translate(889.0 714.7) rotate(-90)">Pyr</text>
<text transform="translate(901.2 657.5) rotate(-90)">G/S</text>
<text transform="translate(913.0 714.7) rotate(-90)">Glucon</text>
<text transform="translate(922.6 657.5) rotate(-90)">SMMPr</text>
<text transform="translate(933.0 714.7) rotate(-90)">T−5.40H</text>
<text transform="translate(935.9 657.5) rotate(-90)">T−4.40H</text>
<text transform="translate(938.6 714.7) rotate(-90)">T−3.40H</text>
<text transform="translate(940.6 657.5) rotate(-90)">T−2.40H</text>
<text transform="translate(942.4 714.7) rotate(-90)">T−1.40H</text>
<text transform="translate(944.1 657.5) rotate(-90)">T−1.10H</text>
<text transform="translate(945.2 714.7) rotate(-90)">T−0.40H</text>
<text transform="translate(948.0 657.5) rotate(-90)">T0.0H</text>
<text transform="translate(955.6 714.7) rotate(-90)">T0.30H</text>
<text transform="translate(960.2 657.5) rotate(-90)">T1.0H</text>
<text transform="translate(963.0 714.7) rotate(-90)">T1.30H</text>
<text transform="translate(965.6 657.5) rotate(-90)">T2.0H</text>
<text transform="translate(968.6 714.7) rotate(-90)">T2.30H</text>
<text transform="translate(972.4 657.5) rotate(-90)">T3.0H</text>
<text transform="translate(975.2 714.7) rotate(-90)">T3.30H</text>
<text transform="translate(979.0 657.5) rotate(-90)">T4.0H</text>
<text transform="translate(983.6 714.7) rotate(-90)">T5.0H</text>
<text transform="translate(992.1 657.5) rotate(-90)">M9−stat</text>
<text transform="translate(1010.9 714.7) rotate(-90)">BC</text>
<text transform="translate(1027.6 657.5) rotate(-90)">Sw</text>
<text transform="translate(1043.6 714.7) rotate(-90)">LPhT</text>
<text transform="translate(1061.5 657.5) rotate(-90)">LBGstat</text>
<text transform="translate(1076.8 714.7) rotate(-90)">LBGtran</text>
<text transform="translate(1086.2 657.5) rotate(-90)">M0t45</text>
<text transform="translate(1091.8 714.7) rotate(-90)">M40t45</text>
<text transform="translate(1101.2 657.5) rotate(-90)">Lbtran</text>
<text transform="translate(1110.6 714.7) rotate(-90)">Mt0</text>
<text transform="translate(1114.3 657.5) rotate(-90)">M40t45</text>
<text transform="translate(1123.6 714.7) rotate(-90)">M40t90</text>
<text transform="translate(1136.8 657.5) rotate(-90)">M0t90</text>
<text transform="translate(1148.0 714.7) rotate(-90)">Lbstat</text>
<text transform="translate(1162.1 657.5) rotate(-90)">BI</text>
<text transform="translate(1172.4 714.7) rotate(-90)">S0</text>
<text transform="translate(1187.4 657.5) rotate(-90)">M0t45</text>
<text transform="translate(1190.2 714.7) rotate(-90)">dia0</text>
<text transform="translate(1199.6 657.5) rotate(-90)">Lbexp</text>
<text transform="translate(1203.3 714.7) rotate(-90)">Mt0</text>
<text transform="translate(1208.0 657.5) rotate(-90)">Lbexp</text>
<text transform="translate(1209.9 714.7) rotate(-90)">Mt0</text>
</g>
</svg></body></html>
